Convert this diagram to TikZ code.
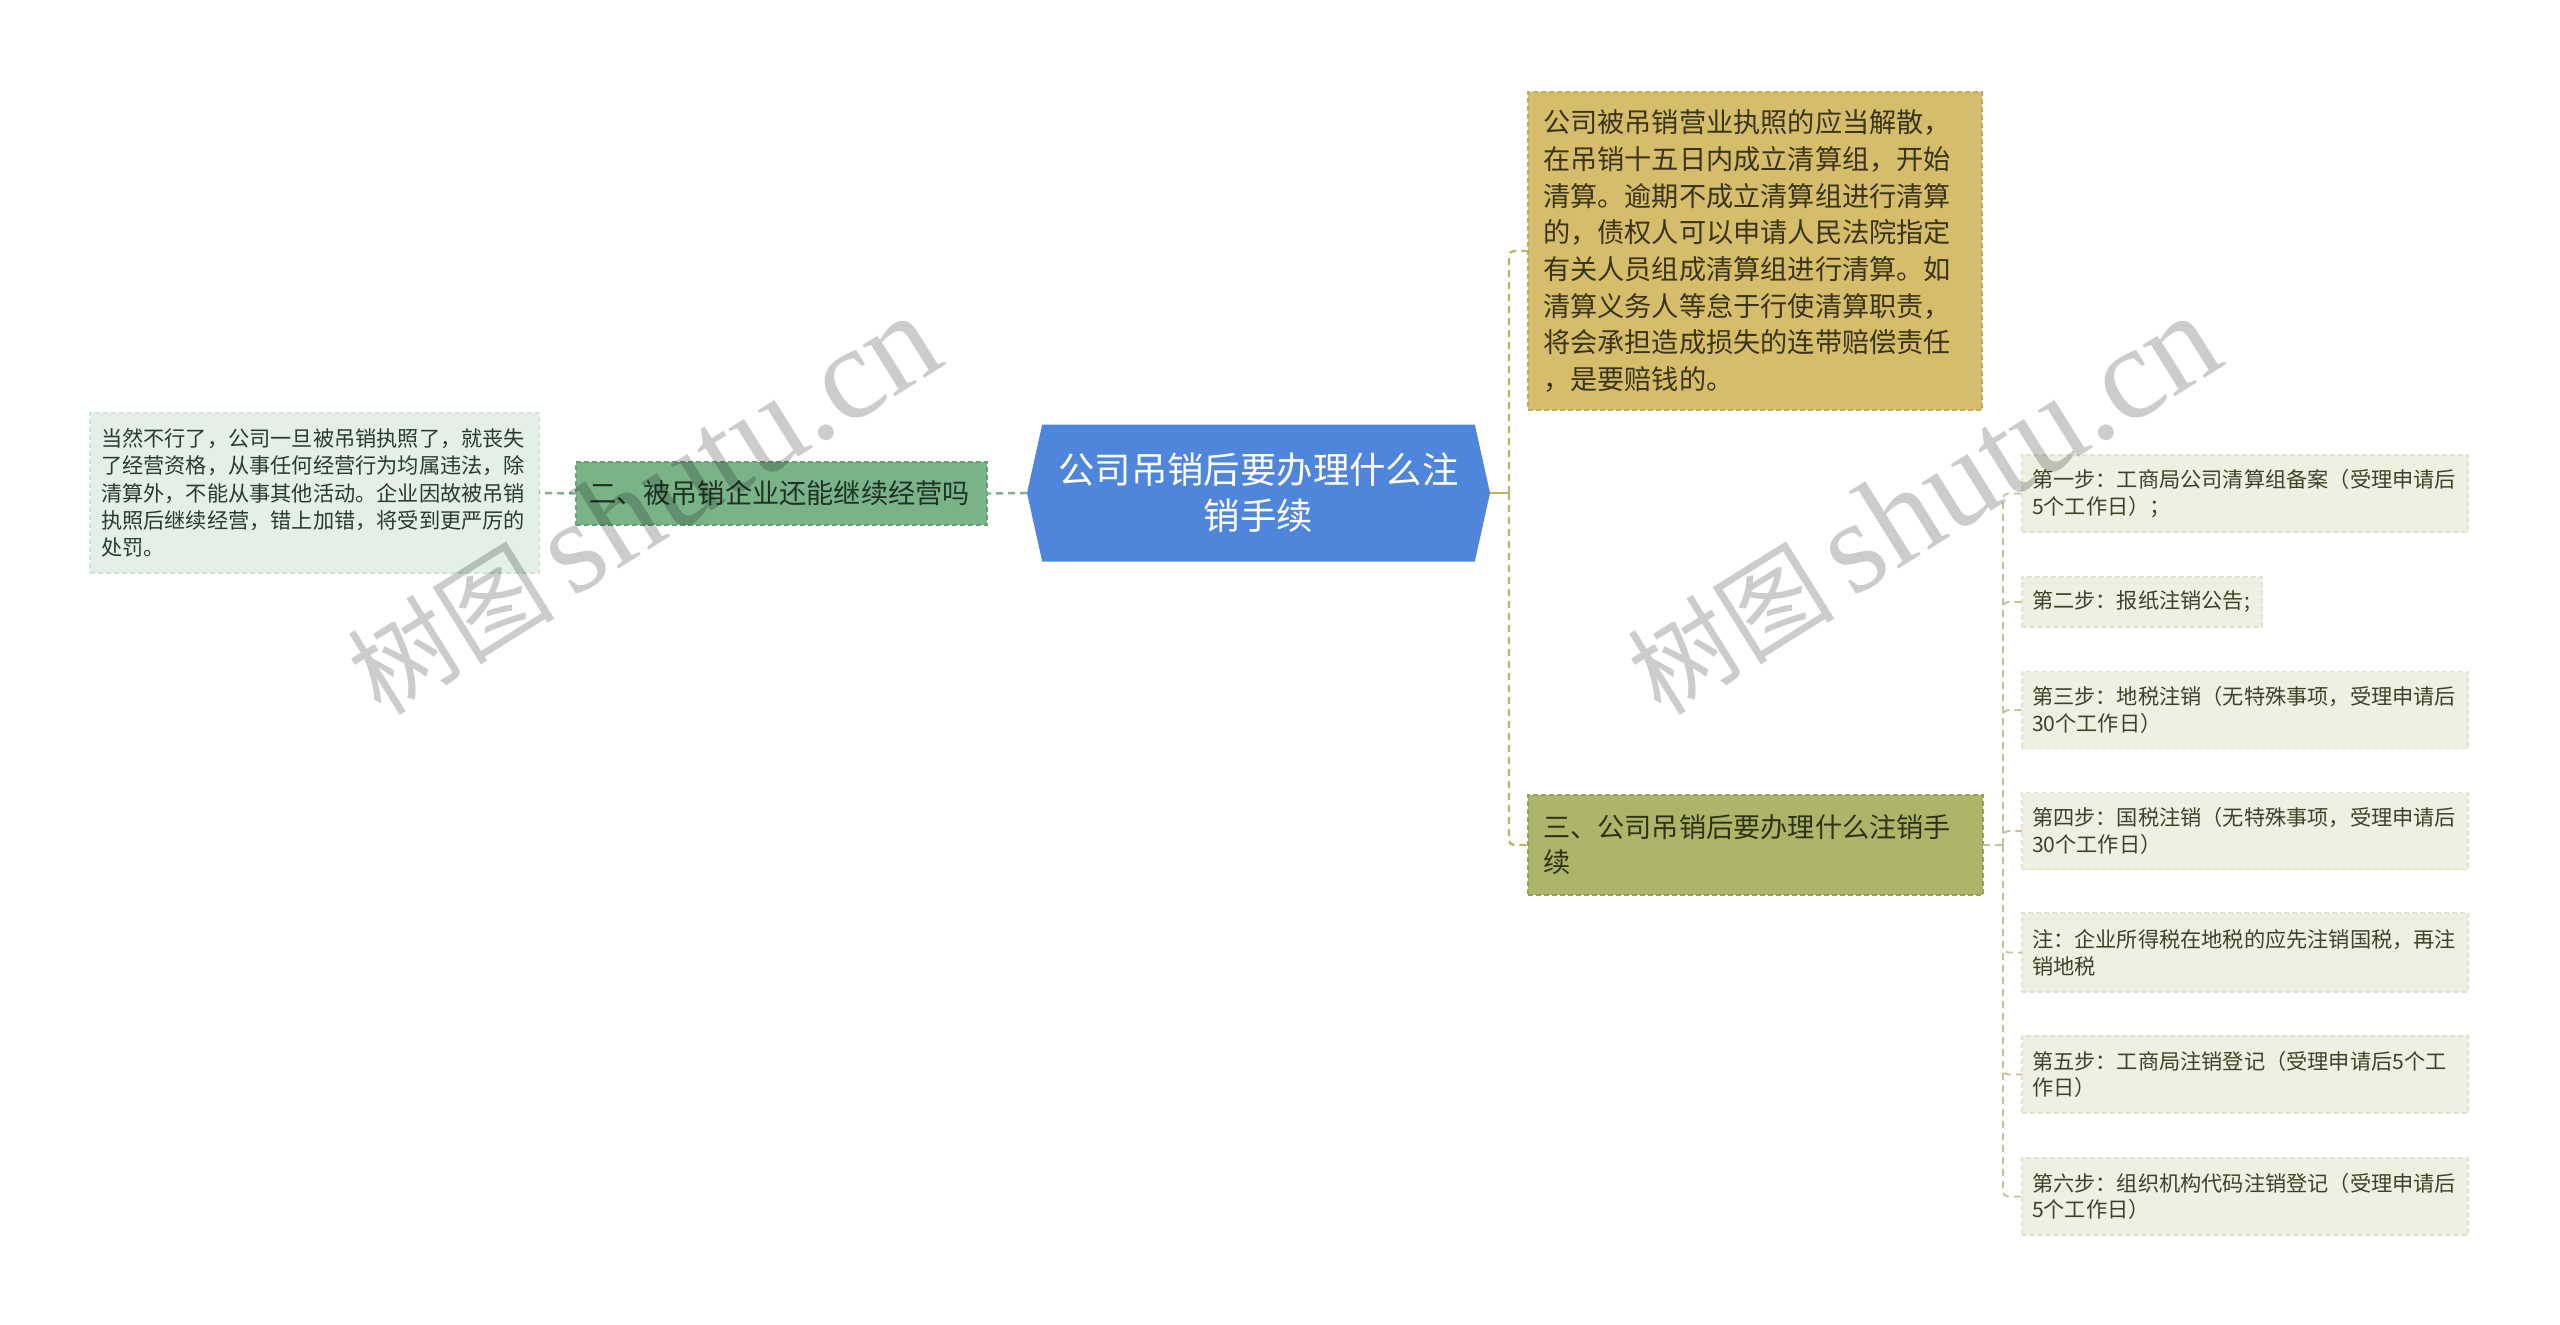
\documentclass[tikz,border=0pt]{standalone}
\usepackage{fontspec}
\setmainfont{Noto Sans CJK SC}
\newfontfamily\wmlatin{Liberation Serif}
\usetikzlibrary{shapes.symbols}
\definecolor{rootblue}{HTML}{4F86DB}
\definecolor{goldfill}{HTML}{D5BD6B}
\definecolor{goldline}{HTML}{C2AA58}
\definecolor{olivefill}{HTML}{ADB56B}
\definecolor{oliveline}{HTML}{98A158}
\definecolor{greenfill}{HTML}{7BB389}
\definecolor{greenline}{HTML}{68A078}
\definecolor{leftfill}{HTML}{E3EFE7}
\definecolor{leftline}{HTML}{D2E3D7}
\definecolor{stepfill}{HTML}{EFEFE2}
\definecolor{stepborder}{HTML}{E2E2D0}
\definecolor{mainconn}{HTML}{BDB464}
\definecolor{stepconn}{HTML}{C4C19C}
\definecolor{goldtext}{HTML}{3A3418}
\definecolor{olivetext}{HTML}{2E3412}
\definecolor{greentext}{HTML}{1E3324}
\definecolor{lefttext}{HTML}{2B3A30}
\definecolor{steptext}{HTML}{3F4226}
\begin{document}
\begin{tikzpicture}[x=1pt,y=-1pt,
  every node/.style={inner sep=0pt, outer sep=0pt},
  box/.style={rectangle, draw, dash pattern=on 5pt off 3pt, line width=1.2pt, align=left},
  goldbox/.style={box, fill=goldfill, draw=goldline, text=goldtext, inner xsep=15pt,
    text width=424pt, minimum height=318pt, font=\fontsize{27.2}{36.7}\selectfont},
  olivebox/.style={box, fill=olivefill, draw=oliveline, text=olivetext, inner xsep=15pt,
    text width=425pt, minimum height=100pt, font=\fontsize{27.2}{35}\selectfont},
  greenbox/.style={box, fill=greenfill, draw=greenline, text=greentext, inner xsep=13pt,
    text width=385pt, minimum height=63pt, font=\fontsize{27.2}{35}\selectfont},
  leftbox/.style={box, fill=leftfill, draw=leftline, text=lefttext, inner xsep=11pt,
    text width=427pt, minimum height=160pt, font=\fontsize{21.2}{27.2}\selectfont},
  stepbox/.style={box, fill=stepfill, draw=stepborder, text=steptext, inner xsep=10pt,
    text width=426pt, minimum height=77pt, anchor=west, font=\fontsize{21.2}{26.8}\selectfont},
  mainline/.style={draw=mainconn, line width=2.4pt},
  maindash/.style={mainline, dash pattern=on 7pt off 5pt, rounded corners=5pt},
  leftdash/.style={draw=greenfill, line width=2.4pt, dash pattern=on 7pt off 5pt},
  stepline/.style={draw=stepconn, line width=1.8pt, dash pattern=on 7pt off 5pt, rounded corners=5pt},
  wm/.style={text=black, text opacity=0.2, font=\fontsize{104}{104}\selectfont, anchor=center}
]
\useasboundingbox[fill=white] (0,0) rectangle (2560,1325);

% root
\node[signal, signal to=west and east, signal pointer angle=155, fill=rootblue,
  minimum width=463pt, minimum height=137pt, text=white, align=center,
  font=\fontsize{36.4}{46}\selectfont] (root) at (1258.5,493) {公司吊销后要办理什么注\\销手续};

% left branch
\node[greenbox] (green) at (781.5,493.5) {二、被吊销企业还能继续经营吗};
\node[leftbox] (leftnote) at (314.5,493) {当然不行了，公司一旦被吊销执照了，就丧失\\了经营资格，从事任何经营行为均属违法，除\\清算外，不能从事其他活动。企业因故被吊销\\执照后继续经营，错上加错，将受到更严厉的\\处罚。};

% right main branches
\node[goldbox] (gold) at (1755,251) {公司被吊销营业执照的应当解散，\\在吊销十五日内成立清算组，开始\\清算。逾期不成立清算组进行清算\\的，债权人可以申请人民法院指定\\有关人员组成清算组进行清算。如\\清算义务人等怠于行使清算职责，\\将会承担造成损失的连带赔偿责任\\，是要赔钱的。};
\node[olivebox] (olive) at (1755.5,845) {三、公司吊销后要办理什么注销手\\续};

% steps
\node[stepbox] (s1) at (2022,493.5) {第一步：工商局公司清算组备案（受理申请后\\5个工作日）；};
\node[stepbox, text width=220pt, minimum height=50pt] (s2) at (2022,602) {第二步：报纸注销公告;};
\node[stepbox] (s3) at (2022,710) {第三步：地税注销（无特殊事项，受理申请后\\30个工作日）};
\node[stepbox] (s4) at (2022,831) {第四步：国税注销（无特殊事项，受理申请后\\30个工作日）};
\node[stepbox, minimum height=79pt] (s5) at (2022,952.5) {注：企业所得税在地税的应先注销国税，再注\\销地税};
\node[stepbox] (s6) at (2022,1074.5) {第五步：工商局注销登记（受理申请后5个工\\作日）};
\node[stepbox] (s7) at (2022,1196.5) {第六步：组织机构代码注销登记（受理申请后\\5个工作日）};

% connectors
\coordinate (rj) at (1509,493);
\coordinate (sj) at (2003,845);
\draw[mainline] (root.east) -- (rj);
\draw[maindash] (rj) |- (gold.west);
\draw[maindash] (rj) |- (olive.west);
\draw[leftdash] (root.west) -- (green.east);
\draw[leftdash] (green.west) -- (leftnote.east);
\draw[stepline] (olive.east) -- (sj);
\foreach \s in {s1,s2,s3,s4,s5,s6,s7} {\draw[stepline] (sj) |- (\s.west);}

% watermarks
\node[wm, rotate=32] (wm1) at (643,505) {树图\,{\wmlatin\fontsize{132}{132}\selectfont shutu.cn}};
\node[wm, rotate=32] (wm2) at (1923,505) {树图\,{\wmlatin\fontsize{132}{132}\selectfont shutu.cn}};
\end{tikzpicture}
\end{document}
